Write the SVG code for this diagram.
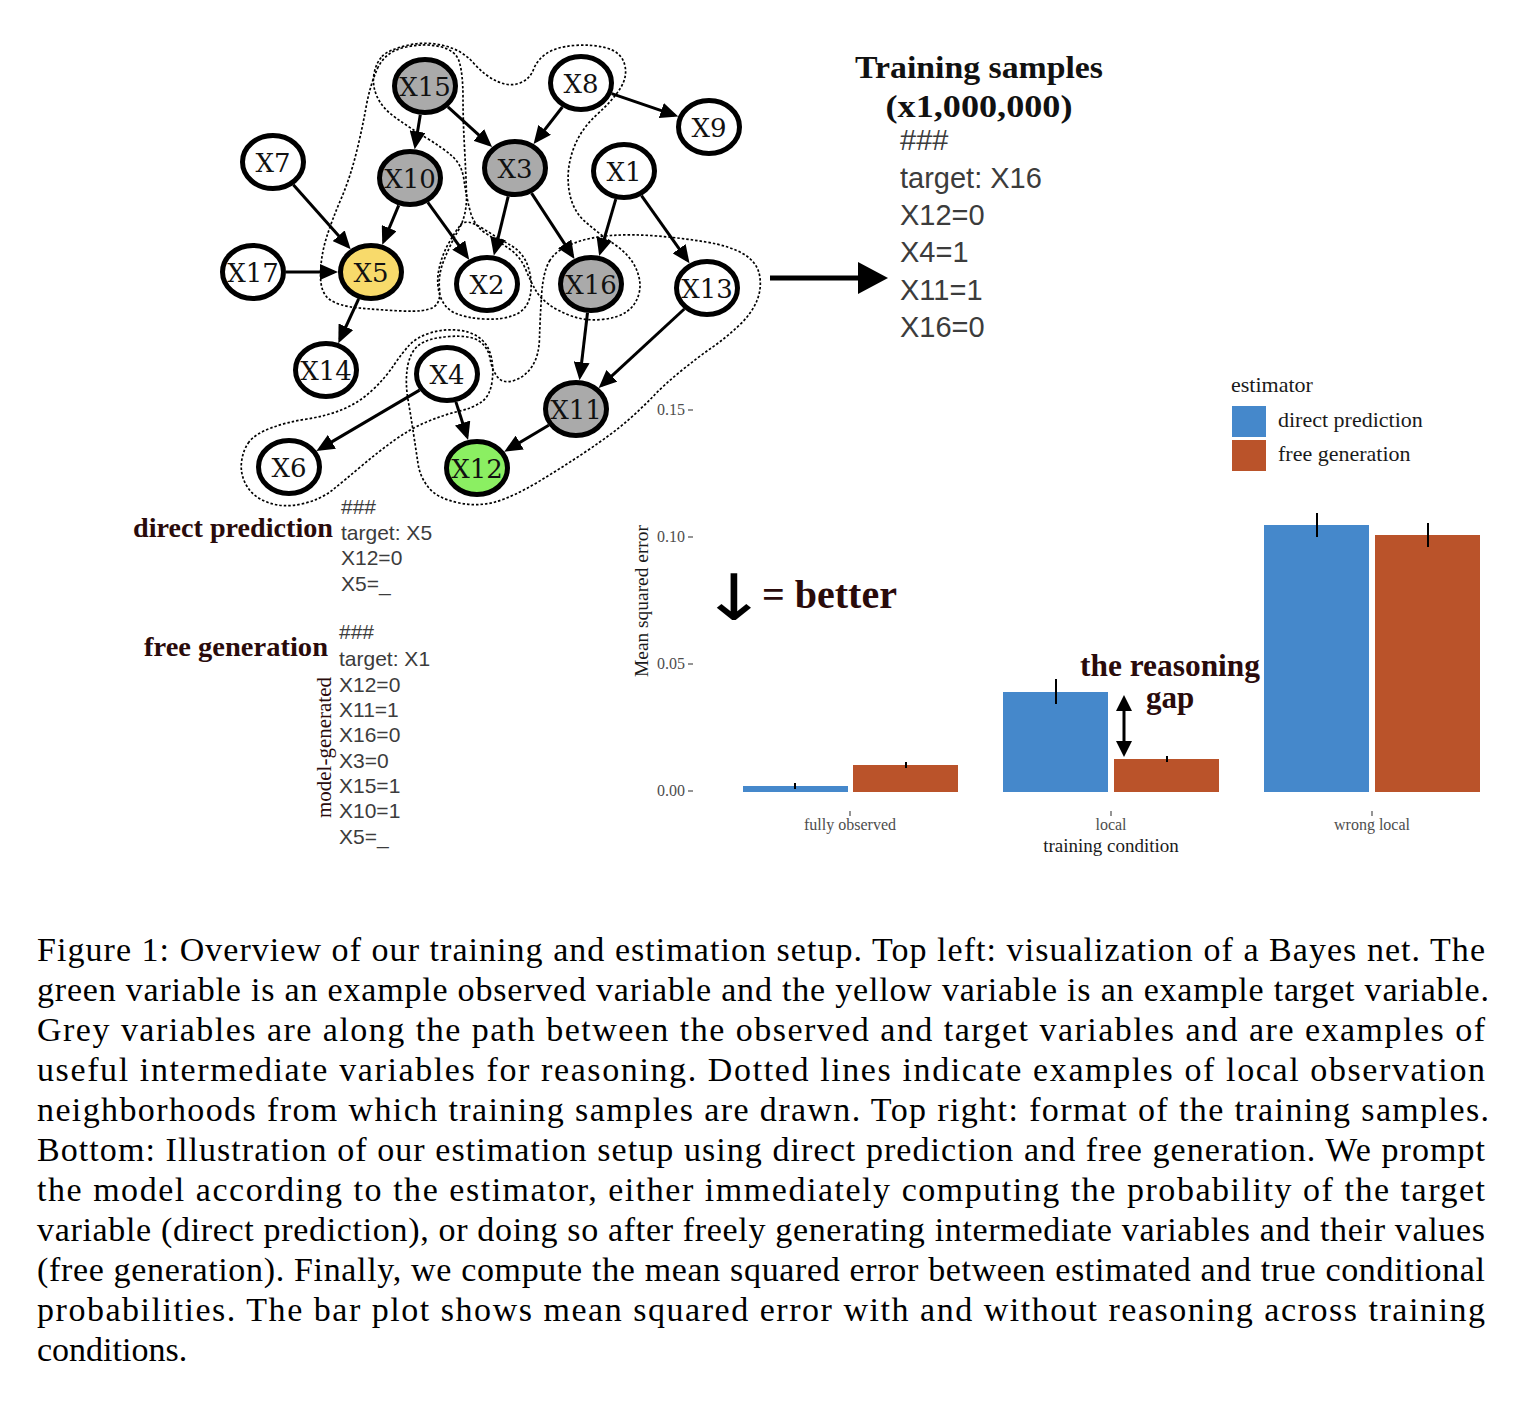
<svg xmlns="http://www.w3.org/2000/svg" width="1528" height="1402" viewBox="0 0 1528 1402">
<defs>
<marker id="ah" markerUnits="userSpaceOnUse" markerWidth="18" markerHeight="16" refX="14" refY="8" orient="auto" viewBox="0 0 18 16"><path d="M0,0 L18,8 L0,16 z" fill="#000"/></marker>
<marker id="bigah" markerUnits="userSpaceOnUse" markerWidth="30" markerHeight="32" refX="2" refY="16" orient="auto" viewBox="0 0 30 32"><path d="M0,0 L30,16 L0,32 z" fill="#000"/></marker>
<marker id="gapah" markerUnits="userSpaceOnUse" markerWidth="16" markerHeight="16" refX="2" refY="8" orient="auto-start-reverse" viewBox="0 0 16 16"><path d="M0,0 L16,8 L0,16 z" fill="#000"/></marker>
<style>
.node ellipse{stroke:#000;stroke-width:5}
.node text{font-family:"DejaVu Serif",serif;font-size:26px;fill:#111;text-anchor:middle}
.edge{stroke:#000;stroke-width:3;fill:none;marker-end:url(#ah)}
.hood{fill:none;stroke:#000;stroke-width:1.7;stroke-dasharray:2.5 2}
.sample{font-family:"Liberation Sans",Arial,sans-serif;fill:#3c3c3c}
.big{font-family:"Liberation Serif","Times New Roman",serif;font-weight:bold;fill:#2a0b0b}
.cap{font-family:"Liberation Serif","Times New Roman",serif;font-size:34px;fill:#000}
.tick{font-family:"Liberation Serif","Times New Roman",serif;font-size:16px;fill:#4d4d4d}
.axt{font-family:"Liberation Serif","Times New Roman",serif;fill:#1a1a1a}
.gray{fill:#aaaaaa}
.white{fill:#ffffff}
.blue{fill:#4588CB}
.orange{fill:#BA532A}
.err{stroke:#000;stroke-width:2}
</style>
</defs>
<rect width="1528" height="1402" fill="#fff"/>

<g id="neighborhoods">
<path class="hood" d="M377.5,68.5 Q385,52 404,47.5 Q423,43 439.5,46.5 Q456,50 459.5,62.5 Q463,75 463,97.5 Q463,120 464.5,147.5 Q466,175 466.5,195 Q467,215 458.5,230 Q450,245 444,260 Q438,275 439.5,289 Q441,303 433,307.5 Q425,312 402.5,311 Q380,310 359,308 Q338,306 329,299 Q320,292 320.5,273.5 Q321,255 326.5,237.5 Q332,220 341,199 Q350,178 356,154 Q362,130 366,107.5 Q370,85 377.5,68.5 Z"/>
<path class="hood" d="M382,56.5 Q388,50 406.5,45.5 Q425,41 443.5,45.5 Q462,50 473.5,63 Q485,76 497.5,81.5 Q510,87 520,83 Q530,79 533.5,69.5 Q537,60 546.5,53.5 Q556,47 574,45.5 Q592,44 606.5,48 Q621,52 624.5,64 Q628,76 620.5,88 Q613,100 596.5,115 Q580,130 573,150 Q566,170 569,190 Q572,210 585,221.5 Q598,233 614,244 Q630,255 636,268.5 Q642,282 639,293.5 Q636,305 627,311.5 Q618,318 601.5,319.5 Q585,321 571.5,316 Q558,311 549,304.5 Q540,298 535.5,290 Q531,282 525.5,269 Q520,256 509,248.5 Q498,241 486,233.5 Q474,226 470,210.5 Q466,195 464,180 Q462,165 452.5,156.5 Q443,148 426.5,138 Q410,128 396,118 Q382,108 377,96.5 Q372,85 374,74 Q376,63 382,56.5 Z"/>
<path class="hood" d="M460.5,225 Q466,218 482,228 Q498,238 511,245.5 Q524,253 528.5,268 Q533,283 530,296.5 Q527,310 514.5,315 Q502,320 484,319 Q466,318 455,313 Q444,308 440,295.5 Q436,283 439,269 Q442,255 448.5,243.5 Q455,232 460.5,225 Z"/>
<path class="hood" d="M549.5,261 Q556,250 573,243.5 Q590,237 611,235.5 Q632,234 657,236 Q682,238 706,242 Q730,246 743.5,254 Q757,262 759.5,275 Q762,288 757,300.5 Q752,313 739.5,325 Q727,337 712,347.5 Q697,358 681,371 Q665,384 652.5,397 Q640,410 626,422 Q612,434 587.5,450.5 Q563,467 538,482 Q513,497 495,502 Q477,507 457,502.5 Q437,498 428.5,487.5 Q420,477 418,463.5 Q416,450 413.5,433.5 Q411,417 408,399.5 Q405,382 407.5,367 Q410,352 419,345 Q428,338 449,336.5 Q470,335 479,341 Q488,347 490,358.5 Q492,370 497.5,377 Q503,384 514,380.5 Q525,377 532,366.5 Q539,356 539.5,338 Q540,320 541.5,296 Q543,272 549.5,261 Z"/>
<path class="hood" d="M249,442 Q243,450 241.5,462 Q240,474 246.5,485.5 Q253,497 268,502.5 Q283,508 301.5,504 Q320,500 332.5,490 Q345,480 361.5,466 Q378,452 394,440.5 Q410,429 426.5,422 Q443,415 458,411.5 Q473,408 481.5,402 Q490,396 492,382 Q494,368 491,356 Q488,344 479,337.5 Q470,331 456.5,330 Q443,329 430,333 Q417,337 409.5,345 Q402,353 394,365 Q386,377 373,389.5 Q360,402 343.5,409 Q327,416 307,419 Q287,422 271,428 Q255,434 249,442 Z"/>
</g>

<g id="connectors">
<line class="edge" x1="420.3" y1="114.7" x2="415.3" y2="145.4"/>
<line class="edge" x1="447.9" y1="106.9" x2="489.1" y2="144.4"/>
<line class="edge" x1="562.4" y1="107" x2="536.05" y2="140.9"/>
<line class="edge" x1="611.7" y1="93.6" x2="674.5" y2="115.1"/>
<line class="edge" x1="293.3" y1="184.8" x2="348" y2="246.2"/>
<line class="edge" x1="398.7" y1="205.3" x2="383.8" y2="241"/>
<line class="edge" x1="427.8" y1="202.4" x2="466.85" y2="256.4"/>
<line class="edge" x1="508.2" y1="196.4" x2="494.8" y2="251.7"/>
<line class="edge" x1="531.5" y1="193.1" x2="572.3" y2="255.6"/>
<line class="edge" x1="615.8" y1="199.1" x2="600.3" y2="252.1"/>
<line class="edge" x1="641.5" y1="195.6" x2="687.2" y2="260.1"/>
<line class="edge" x1="286" y1="272" x2="334" y2="272"/>
<line class="edge" x1="358.65" y1="298.9" x2="340" y2="339.5"/>
<line class="edge" x1="587.5" y1="312.8" x2="580" y2="376.2"/>
<line class="edge" x1="684.3" y1="309" x2="601.6" y2="385.3"/>
<line class="edge" x1="419.6" y1="390.1" x2="319.85" y2="448.9"/>
<line class="edge" x1="455.9" y1="401.9" x2="466.9" y2="436.3"/>
<line class="edge" x1="548.7" y1="425.3" x2="507.7" y2="449.65"/>
<line x1="770" y1="278" x2="860" y2="278" stroke="#000" stroke-width="5" marker-end="url(#bigah)"/>
<line x1="1124" y1="709" x2="1124" y2="743" stroke="#000" stroke-width="3" marker-start="url(#gapah)" marker-end="url(#gapah)"/>
</g>

<g id="X15" class="node"><ellipse cx="425" cy="86" rx="30.5" ry="26.5" class="gray"/><text x="425" y="95.5">X15</text></g>
<g id="X8" class="node"><ellipse cx="581" cy="83" rx="30.5" ry="26.5" class="white"/><text x="581" y="92.5">X8</text></g>
<g id="X9" class="node"><ellipse cx="709" cy="127" rx="30.5" ry="26.5" class="white"/><text x="709" y="136.5">X9</text></g>
<g id="X7" class="node"><ellipse cx="273" cy="162" rx="30.5" ry="26.5" class="white"/><text x="273" y="171.5">X7</text></g>
<g id="X10" class="node"><ellipse cx="410" cy="178" rx="30.5" ry="26.5" class="gray"/><text x="410" y="187.5">X10</text></g>
<g id="X3" class="node"><ellipse cx="515" cy="168" rx="30.5" ry="26.5" class="gray"/><text x="515" y="177.5">X3</text></g>
<g id="X1" class="node"><ellipse cx="624" cy="171" rx="30.5" ry="26.5" class="white"/><text x="624" y="180.5">X1</text></g>
<g id="X17" class="node"><ellipse cx="253" cy="272" rx="30.5" ry="26.5" class="white"/><text x="253" y="281.5">X17</text></g>
<g id="X5" class="node"><ellipse cx="371" cy="272" rx="30.5" ry="26.5" fill="#F8DA6B"/><text x="371" y="281.5">X5</text></g>
<g id="X2" class="node"><ellipse cx="487" cy="284" rx="30.5" ry="26.5" class="white"/><text x="487" y="293.5">X2</text></g>
<g id="X16" class="node"><ellipse cx="591" cy="284" rx="30.5" ry="26.5" class="gray"/><text x="591" y="293.5">X16</text></g>
<g id="X13" class="node"><ellipse cx="707" cy="288" rx="30.5" ry="26.5" class="white"/><text x="707" y="297.5">X13</text></g>
<g id="X14" class="node"><ellipse cx="326" cy="370" rx="30.5" ry="26.5" class="white"/><text x="326" y="379.5">X14</text></g>
<g id="X4" class="node"><ellipse cx="447" cy="374" rx="30.5" ry="26.5" class="white"/><text x="447" y="383.5">X4</text></g>
<g id="X11" class="node"><ellipse cx="576" cy="409" rx="30.5" ry="26.5" class="gray"/><text x="576" y="418.5">X11</text></g>
<g id="X6" class="node"><ellipse cx="289" cy="467" rx="30.5" ry="26.5" class="white"/><text x="289" y="476.5">X6</text></g>
<g id="X12" class="node"><ellipse cx="477" cy="468" rx="30.5" ry="26.5" fill="#8BEF62"/><text x="477" y="477.5">X12</text></g>

<g id="training-samples">
<text x="979" y="78" text-anchor="middle" font-family="Liberation Serif, serif" font-weight="bold" font-size="32" fill="#111" textLength="248" lengthAdjust="spacingAndGlyphs">Training samples</text>
<text x="979" y="117" text-anchor="middle" font-family="Liberation Serif, serif" font-weight="bold" font-size="32" fill="#111" textLength="187" lengthAdjust="spacingAndGlyphs">(x1,000,000)</text>
<g class="sample" font-size="29">
<text x="900" y="150">###</text>
<text x="900" y="188">target: X16</text>
<text x="900" y="225">X12=0</text>
<text x="900" y="262">X4=1</text>
<text x="900" y="300">X11=1</text>
<text x="900" y="337">X16=0</text>
</g>
</g>

<g id="direct-prediction">
<text class="big" x="333" y="537" text-anchor="end" font-size="28" textLength="200" lengthAdjust="spacingAndGlyphs">direct prediction</text>
<g class="sample" font-size="21">
<text x="341" y="514">###</text>
<text x="341" y="540">target: X5</text>
<text x="341" y="565">X12=0</text>
<text x="341" y="591">X5=_</text>
</g>
</g>

<g id="free-generation">
<text class="big" x="328" y="656" text-anchor="end" font-size="28" textLength="184" lengthAdjust="spacingAndGlyphs">free generation</text>
<text x="0" y="0" transform="translate(331,747.5) rotate(-90)" text-anchor="middle" font-family="Liberation Serif, serif" font-size="20" fill="#2a0b0b" textLength="141" lengthAdjust="spacingAndGlyphs">model-generated</text>
<g class="sample" font-size="21">
<text x="339" y="639">###</text>
<text x="339" y="666">target: X1</text>
<text x="339" y="692">X12=0</text>
<text x="339" y="717">X11=1</text>
<text x="339" y="742">X16=0</text>
<text x="339" y="768">X3=0</text>
<text x="339" y="793">X15=1</text>
<text x="339" y="818">X10=1</text>
<text x="339" y="844">X5=_</text>
</g>
</g>

<g id="chart">
<text class="axt" x="0" y="0" transform="translate(648,601) rotate(-90)" text-anchor="middle" font-size="18" textLength="152" lengthAdjust="spacingAndGlyphs">Mean squared error</text>
<g class="tick" text-anchor="end">
<text x="685" y="415">0.15</text>
<text x="685" y="542">0.10</text>
<text x="685" y="669">0.05</text>
<text x="685" y="796">0.00</text>
</g>
<g stroke="#4d4d4d" stroke-width="1.2">
<line x1="688" y1="410" x2="693" y2="410"/>
<line x1="688" y1="537" x2="693" y2="537"/>
<line x1="688" y1="664" x2="693" y2="664"/>
<line x1="688" y1="791" x2="693" y2="791"/>
<line x1="850" y1="811" x2="850" y2="816"/>
<line x1="1111" y1="811" x2="1111" y2="816"/>
<line x1="1372" y1="811" x2="1372" y2="816"/>
</g>
<rect class="blue" x="743" y="786" width="105" height="6"/>
<rect class="orange" x="853" y="765" width="105" height="27"/>
<rect class="blue" x="1003" y="692" width="105" height="100"/>
<rect class="orange" x="1114" y="759" width="105" height="33"/>
<rect class="blue" x="1264" y="525" width="105" height="267"/>
<rect class="orange" x="1375" y="535" width="105" height="257"/>
<g class="err">
<line x1="795" y1="783" x2="795" y2="789"/>
<line x1="906" y1="762" x2="906" y2="768"/>
<line x1="1056" y1="679" x2="1056" y2="704"/>
<line x1="1167" y1="756" x2="1167" y2="762"/>
<line x1="1317" y1="513" x2="1317" y2="537"/>
<line x1="1428" y1="523" x2="1428" y2="547"/>
</g>
<g class="tick" text-anchor="middle">
<text x="850" y="830">fully observed</text>
<text x="1111" y="830">local</text>
<text x="1372" y="830">wrong local</text>
</g>
<text class="axt" x="1111" y="852" text-anchor="middle" font-size="19">training condition</text>
<text class="axt" x="1231" y="392" font-size="22">estimator</text>
<rect class="blue" x="1232" y="406" width="34" height="31"/>
<rect class="orange" x="1232" y="440" width="34" height="31"/>
<text class="axt" x="1278" y="427" font-size="22">direct prediction</text>
<text class="axt" x="1278" y="461" font-size="22">free generation</text>
<text x="0" y="0" transform="translate(734,620) scale(1.25,1)" text-anchor="middle" font-family="DejaVu Sans, sans-serif" font-size="64" fill="#000">↓</text>
<text class="big" x="762" y="608" font-size="40">= better</text>
<text class="big" x="1170" y="676" text-anchor="middle" font-size="31" textLength="180" lengthAdjust="spacingAndGlyphs">the reasoning</text>
<text class="big" x="1170" y="708" text-anchor="middle" font-size="31">gap</text>
</g>

<g id="caption" class="cap">
<text x="37" y="961" textLength="1448" lengthAdjust="spacing">Figure 1: Overview of our training and estimation setup. Top left: visualization of a Bayes net. The</text>
<text x="37" y="1001" textLength="1452" lengthAdjust="spacing">green variable is an example observed variable and the yellow variable is an example target variable.</text>
<text x="37" y="1041" textLength="1448" lengthAdjust="spacing">Grey variables are along the path between the observed and target variables and are examples of</text>
<text x="37" y="1081" textLength="1448" lengthAdjust="spacing">useful intermediate variables for reasoning.  Dotted lines indicate examples of local observation</text>
<text x="37" y="1121" textLength="1452" lengthAdjust="spacing">neighborhoods from which training samples are drawn. Top right: format of the training samples.</text>
<text x="37" y="1161" textLength="1448" lengthAdjust="spacing">Bottom: Illustration of our estimation setup using direct prediction and free generation. We prompt</text>
<text x="37" y="1201" textLength="1448" lengthAdjust="spacing">the model according to the estimator, either immediately computing the probability of the target</text>
<text x="37" y="1241" textLength="1448" lengthAdjust="spacing">variable (direct prediction), or doing so after freely generating intermediate variables and their values</text>
<text x="37" y="1281" textLength="1448" lengthAdjust="spacing">(free generation). Finally, we compute the mean squared error between estimated and true conditional</text>
<text x="37" y="1321" textLength="1448" lengthAdjust="spacing">probabilities. The bar plot shows mean squared error with and without reasoning across training</text>
<text x="37" y="1361">conditions.</text>
</g>
</svg>
